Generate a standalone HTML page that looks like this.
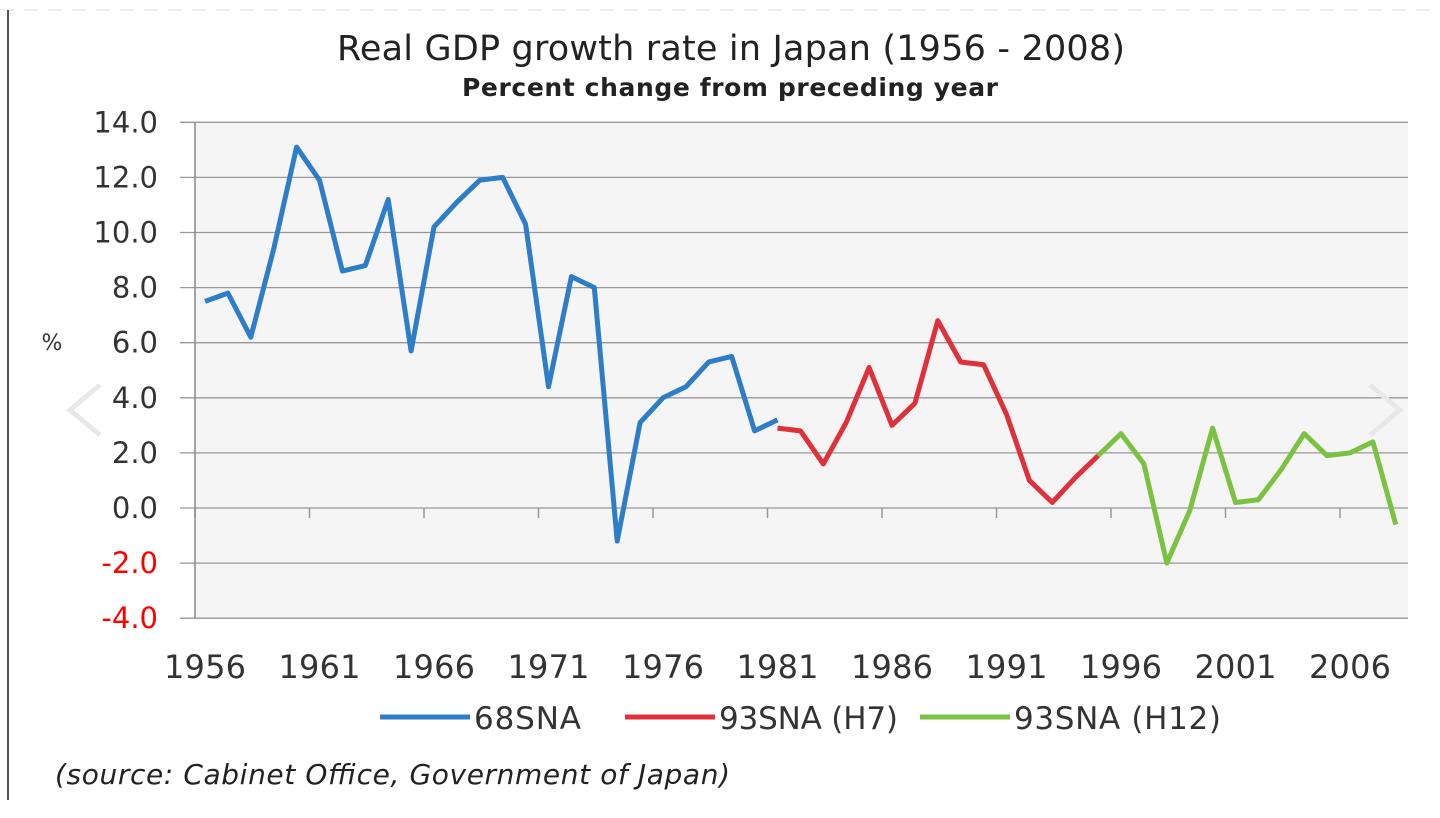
<!DOCTYPE html>
<html><head><meta charset="utf-8"><style>
body{margin:0;background:#fff;width:1440px;height:818px;overflow:hidden;font-family:"DejaVu Sans","Liberation Sans",sans-serif}
</style></head><body>
<svg width="1440" height="818" style="position:absolute;left:0;top:0">
<line x1="0" y1="10" x2="1440" y2="10" stroke="#ddd" stroke-dasharray="14 10"/>
<line x1="8" y1="10" x2="8" y2="800" stroke="#555" stroke-width="2"/>
<text x="731" y="60" text-anchor="middle" font-size="35" textLength="788" fill="#222">Real GDP growth rate in Japan (1956 - 2008)</text>
<text x="730" y="96" text-anchor="middle" font-size="25" font-weight="bold" textLength="536" fill="#222">Percent change from preceding year</text>
<rect x="195" y="122" width="1213" height="496" fill="#f5f5f5"/>
<g id="grid"></g>
<line x1="195" y1="122" x2="195" y2="618" stroke="#888" stroke-width="1.5"/>
<text x="52" y="350" text-anchor="middle" font-size="22" fill="#333">%</text>
<g id="series"></g>
<polyline points="100,385 70,410 100,435" fill="none" stroke="#e8e8e8" stroke-width="5"/>
<polyline points="1370,385 1400,410 1370,435" fill="none" stroke="#e8e8e8" stroke-width="5"/>
<g id="legend"></g>
<text x="55" y="784" font-size="28" font-style="italic" textLength="675" fill="#222">(source:  Cabinet Office, Government of Japan)</text>
</svg>
<script>
const yTicks=[14,12,10,8,6,4,2,0,-2,-4];
const xLabels=[1956,1961,1966,1971,1976,1981,1986,1991,1996,2001,2006];
const years68=[1956,1957,1958,1959,1960,1961,1962,1963,1964,1965,1966,1967,1968,1969,1970,1971,1972,1973,1974,1975,1976,1977,1978,1979,1980,1981];
const vals68=[7.5,7.8,6.2,9.4,13.1,11.9,8.6,8.8,11.2,5.7,10.2,11.1,11.9,12.0,10.3,4.4,8.4,8.0,-1.2,3.1,4.0,4.4,5.3,5.5,2.8,3.2];
const yearsH7=[1981,1982,1983,1984,1985,1986,1987,1988,1989,1990,1991,1992,1993,1994,1995];
const valsH7=[2.9,2.8,1.6,3.1,5.1,3.0,3.8,6.8,5.3,5.2,3.4,1.0,0.2,1.1,1.9];
const yearsH12=[1995,1996,1997,1998,1999,2000,2001,2002,2003,2004,2005,2006,2007,2008];
const valsH12=[1.9,2.7,1.6,-2.0,-0.1,2.9,0.2,0.3,1.4,2.7,1.9,2.0,2.4,-0.6];
const seriesNames=["68SNA","93SNA (H7)","93SNA (H12)"];
const colors=["#2e7dc9","#e0303a","#7cc242"];
const NS="http://www.w3.org/2000/svg";
const X=y=>205+(y-1956)*22.9;
const Y=v=>508-v*27.55;
function mk(tag,attrs,parent,text){const e=document.createElementNS(NS,tag);for(const k in attrs)e.setAttribute(k,attrs[k]);if(text!==undefined)e.textContent=text;parent.appendChild(e);return e;}
const grid=document.getElementById('grid');
yTicks.forEach(t=>{
 const l=mk('line',{x1:180,x2:1408,y1:Y(t),y2:Y(t),stroke:'#999','stroke-width':1.3},grid);
 
 
 const tx=mk('text',{x:158,y:Y(t)+10,'text-anchor':'end','font-size':29,fill:t<0?'#ff0000':'#333'},grid,t.toFixed(1));
 
 
});
xLabels.forEach(y=>{
 const tk=mk('line',{x1:X(y)-10,x2:X(y)-10,y1:Y(0),y2:Y(0)+10,stroke:'#999','stroke-width':1.5},grid);
 
 
 const tx=mk('text',{x:X(y),y:678,'text-anchor':'middle','font-size':32,'textLength':82,fill:'#333'},grid,String(y));
 
 
});
const sg=document.getElementById('series');
[[years68,vals68],[yearsH7,valsH7],[yearsH12,valsH12]].forEach((s,i)=>{
 const pts=s[0].map((y,j)=>X(y)+','+Y(s[1][j])).join(' ');
 const p=mk('polyline',{points:pts,fill:'none',stroke:colors[i],'stroke-width':5,'stroke-linejoin':'round'},sg);
 
 
});
const lg=document.getElementById('legend');
const lx=[380,625,920];
const tw=[107,179,207];
seriesNames.forEach((n,i)=>{
 const g=mk('g',{},lg);
 
 
 mk('line',{x1:lx[i],x2:lx[i]+90,y1:717,y2:717,stroke:colors[i],'stroke-width':5},g);
 mk('text',{x:lx[i]+94,y:729,'font-size':31,textLength:tw[i],fill:'#333'},g,n);
});
</script>
</body></html>
